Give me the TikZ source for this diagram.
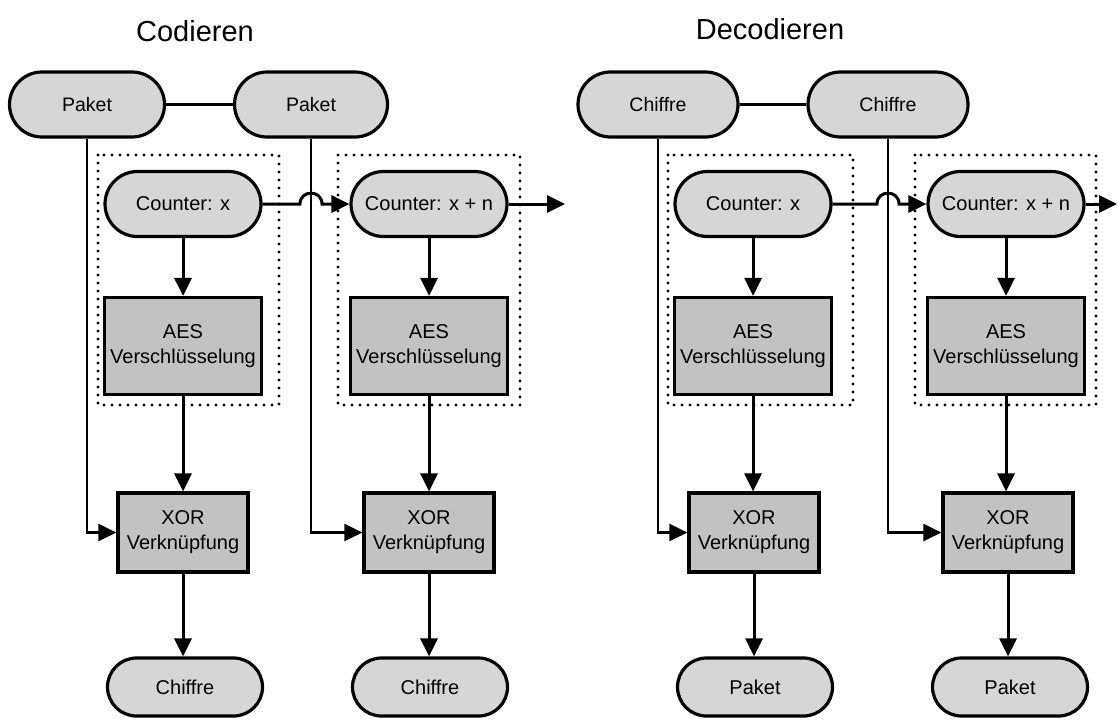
\documentclass[tikz,border=0pt]{standalone}
\usepackage{fontspec}
\setmainfont{Liberation Sans}
\usetikzlibrary{arrows.meta,shapes.misc}
\begin{document}
\begin{tikzpicture}[x=1pt,y=-1pt,
  stadium/.style={rounded rectangle, draw, line width=3.2pt, fill=black!16,
    minimum height=65pt, inner sep=0pt, font=\fontsize{20}{24}\selectfont},
  topstad/.style={stadium, font=\fontsize{19.5}{23}\selectfont},
  botstad/.style={stadium, minimum height=58pt, minimum width=155pt},
  ctr/.style={stadium, minimum width=156pt},
  aesbox/.style={rectangle, draw, line width=3.2pt, fill=black!24,
    minimum width=157pt, minimum height=97pt, inner sep=0pt, align=center,
    font=\fontsize{20}{25}\selectfont},
  xorbox/.style={aesbox, minimum width=130pt, minimum height=79pt},
  dotbox/.style={draw, line width=3.4pt, dash pattern=on 0pt off 8pt, line cap=round},
  arr/.style={line width=3pt, -{Triangle[length=18pt,width=17pt]}},
  feed/.style={line width=2.6pt},
  feedarr/.style={line width=2.6pt, -{Triangle[length=18pt,width=17pt]}},
  title/.style={font=\fontsize{29}{34}\selectfont, anchor=base}
]
\useasboundingbox (0,0) rectangle (1118,723);

% titles
\node[title] (t1) at (195,41) {Codieren};
\node[title] (t2) at (770,39) {Decodieren};

% dotted boxes
\draw[dotbox] (98,155) rectangle (279,405);
\draw[dotbox] (338,155) rectangle (520,405);
\draw[dotbox] (668,155) rectangle (853,405);
\draw[dotbox] (915,155) rectangle (1096,405);

% ---- Codieren ----
\node[topstad, minimum width=155pt] (P1) at (87,104.5) {Paket};
\node[topstad, minimum width=153pt] (P2) at (311,104.5) {Paket};
\node[ctr] (C1) at (183,204) {Counter: x};
\node[ctr] (C2) at (429,204) {Counter: x + n};
\node[aesbox] (A1) at (183,346) {AES\\Verschlüsselung};
\node[aesbox] (A2) at (429,346) {AES\\Verschlüsselung};
\node[xorbox] (X1) at (183,532.5) {XOR\\Verknüpfung};
\node[xorbox] (X2) at (429,532.5) {XOR\\Verknüpfung};
\node[botstad] (B1) at (185,687) {Chiffre};
\node[botstad] (B2) at (430,687) {Chiffre};
\coordinate (O1) at (565,204);

\draw[feed] (P1.east) -- (P2.west);
\draw[feedarr] (P1.south) |- (X1.west);
\draw[feedarr] (P2.south) |- (X2.west);
\draw[arr] (C1.east) -- (300,204) .. controls (300,189.5) and (322,189.5) .. (322,204) -- (C2.west);
\draw[arr] (C2.east) -- (O1);
\draw[arr] (C1.south) -- (A1.north);
\draw[arr] (C2.south) -- (A2.north);
\draw[arr] (A1.south) -- (X1.north);
\draw[arr] (A2.south) -- (X2.north);
\draw[arr] (X1.south) -- (B1.north -| X1.south);
\draw[arr] (X2.south) -- (B2.north -| X2.south);

% ---- Decodieren ----
\node[topstad, minimum width=160pt] (Q1) at (658,104.5) {Chiffre};
\node[topstad, minimum width=160pt] (Q2) at (888,104.5) {Chiffre};
\node[ctr] (C3) at (753,204) {Counter: x};
\node[ctr] (C4) at (1006,204) {Counter: x + n};
\node[aesbox] (A3) at (753,346) {AES\\Verschlüsselung};
\node[aesbox] (A4) at (1006,346) {AES\\Verschlüsselung};
\node[xorbox] (X3) at (754,532.5) {XOR\\Verknüpfung};
\node[xorbox] (X4) at (1008,532.5) {XOR\\Verknüpfung};
\node[botstad] (B3) at (755,687) {Paket};
\node[botstad] (B4) at (1010,687) {Paket};
\coordinate (O2) at (1117,204);

\draw[feed] (Q1.east) -- (Q2.west);
\draw[feedarr] (Q1.south) |- (X3.west);
\draw[feedarr] (Q2.south) |- (X4.west);
\draw[arr] (C3.east) -- (877,204) .. controls (877,189.5) and (899,189.5) .. (899,204) -- (C4.west);
\draw[arr] (C4.east) -- (O2);
\draw[arr] (C3.south) -- (A3.north);
\draw[arr] (C4.south) -- (A4.north);
\draw[arr] (A3.south) -- (A3.south |- X3.north);
\draw[arr] (A4.south) -- (A4.south |- X4.north);
\draw[arr] (X3.south) -- (B3.north -| X3.south);
\draw[arr] (X4.south) -- (B4.north -| X4.south);
\end{tikzpicture}
\end{document}
